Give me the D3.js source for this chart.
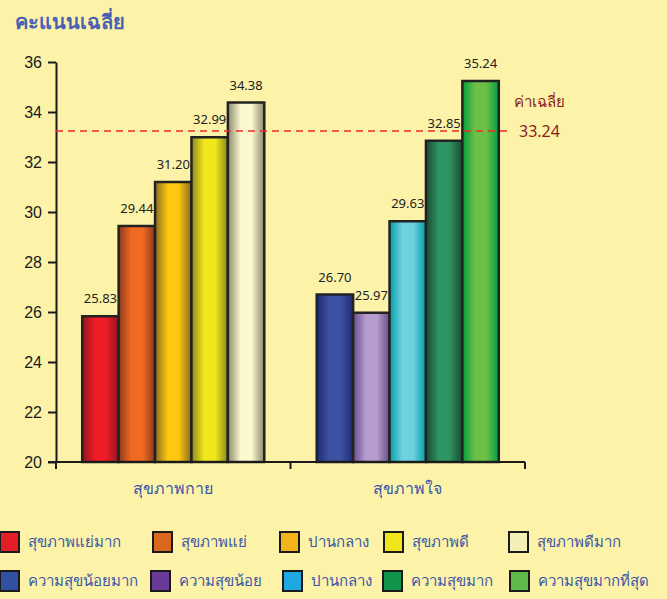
<!DOCTYPE html>
<html>
<head>
<meta charset="utf-8">
<script src="https://cdn.jsdelivr.net/npm/d3@7"></script>
<style>
  body { margin: 0; background: #fcf3a8; }
  svg { display: block; font-family: Tahoma, "Noto Sans", "DejaVu Sans", sans-serif; }
  .axis path, .axis line { stroke: #1a1a1a; stroke-width: 2px; }
  .axis text { fill: #1a1a1a; font-size: 16px; }
  .val { fill: #222; font-size: 13px; }
  .cat { fill: #3a56a8; font-size: 16px; }
  .leg { fill: #3a56a8; font-size: 15px; }
</style>
</head>
<body>
<div id="vis"></div>
<script>
const groups = ["สุขภาพกาย", "สุขภาพใจ"];
const physicalLabels = ["สุขภาพแย่มาก", "สุขภาพแย่", "ปานกลาง", "สุขภาพดี", "สุขภาพดีมาก"];
const mentalLabels = ["ความสุขน้อยมาก", "ความสุขน้อย", "ปานกลาง", "ความสุขมาก", "ความสุขมากที่สุด"];
const physicalValues = [25.83, 29.44, 31.20, 32.99, 34.38];
const mentalValues = [26.70, 25.97, 29.63, 32.85, 35.24];
const average = 33.24;
const yTicks = [20, 22, 24, 26, 28, 30, 32, 34, 36];

// bar shading: [edge, center]
const physicalBarColors = [["#8e1620", "#ee1c27"], ["#8a3a1c", "#f26a22"], ["#8a6a22", "#fec80e"], ["#8a8a1e", "#f2e61c"], ["#8a8a6c", "#fcf8d0"]];
const mentalBarColors = [["#1e2a72", "#3d52a2"], ["#6a4a8c", "#b59ecd"], ["#00a0a6", "#70d0e0"], ["#1a4a32", "#2e9462"], ["#00a040", "#6cc046"]];
const physicalLegend = ["#e41e26", "#d8681e", "#f2b41a", "#f0e41a", "#f4efb8"];
const mentalLegend = ["#3050a0", "#6a3a98", "#20a8e0", "#10944a", "#5eb84a"];

const width = 667, height = 599;
const margin = { top: 62, right: 142, bottom: 137, left: 56 };

const svg = d3.select("#vis").append("svg")
  .attr("width", width).attr("height", height);

const defs = svg.append("defs");
function grad(id, c) {
  const g = defs.append("linearGradient").attr("id", id)
    .attr("x1", "0%").attr("x2", "100%").attr("y1", "0%").attr("y2", "0%");
  g.append("stop").attr("offset", "0%").attr("stop-color", c[0]);
  g.append("stop").attr("offset", "35%").attr("stop-color", c[1]);
  g.append("stop").attr("offset", "65%").attr("stop-color", c[1]);
  g.append("stop").attr("offset", "100%").attr("stop-color", c[0]);
}
physicalBarColors.forEach((c, i) => grad("gp" + i, c));
mentalBarColors.forEach((c, i) => grad("gm" + i, c));

const x0 = d3.scaleBand()
  .domain(groups)
  .range([margin.left, width - margin.right]);

const x1 = d3.scaleBand()
  .domain(d3.range(5))
  .range([0, x0.bandwidth()])
  .paddingOuter(0.72);

const y = d3.scaleLinear()
  .domain([20, 36])
  .range([height - margin.bottom, margin.top]);

const data = [
  { group: groups[0], values: physicalValues, pre: "gp" },
  { group: groups[1], values: mentalValues, pre: "gm" }
];

// title
svg.append("text")
  .attr("x", 15).attr("y", 29)
  .attr("fill", "#4a60b4")
  .attr("font-size", 20).attr("font-weight", "bold")
  .text("คะแนนเฉลี่ย");

// bars
const g = svg.selectAll(".grp")
  .data(data)
  .join("g")
  .attr("transform", d => `translate(${x0(d.group)},0)`);

g.selectAll("rect")
  .data(d => d.values.map((v, i) => ({ v, i, pre: d.pre })))
  .join("rect")
  .attr("x", d => x1(d.i))
  .attr("y", d => y(d.v))
  .attr("width", x1.bandwidth())
  .attr("height", d => y(20) - y(d.v))
  .attr("fill", d => `url(#${d.pre}${d.i})`)
  .attr("stroke", "#222")
  .attr("stroke-width", 2.5);

g.selectAll(".val")
  .data(d => d.values.map((v, i) => ({ v, i })))
  .join("text")
  .attr("class", "val")
  .attr("x", d => x1(d.i) + x1.bandwidth() / 2)
  .attr("y", d => y(d.v) - 13)
  .attr("text-anchor", "middle")
  .text(d => d.v.toFixed(2));

// axes
svg.append("g")
  .attr("class", "axis")
  .attr("transform", `translate(${margin.left},0)`)
  .call(d3.axisLeft(y).tickValues(yTicks).tickSize(8).tickSizeOuter(0).tickPadding(6))
  .call(g => g.selectAll("text").attr("dy", "0.35em"));

const xAxis = svg.append("g")
  .attr("class", "axis")
  .attr("transform", `translate(0,${y(20)})`);
xAxis.append("line")
  .attr("x1", margin.left - 8).attr("x2", width - margin.right)
  .attr("y1", 0).attr("y2", 0);
xAxis.selectAll(".tk")
  .data([margin.left, x0(groups[1]), width - margin.right])
  .join("line")
  .attr("x1", d => d).attr("x2", d => d)
  .attr("y1", 0).attr("y2", 7);

svg.selectAll(".cat")
  .data(groups)
  .join("text")
  .attr("class", "cat")
  .attr("x", d => x0(d) + x0.bandwidth() / 2)
  .attr("y", y(20) + 32)
  .attr("text-anchor", "middle")
  .text(d => d);

// average line
svg.append("line")
  .attr("x1", margin.left).attr("x2", 510)
  .attr("y1", y(average)).attr("y2", y(average))
  .attr("stroke", "#ee2a2a").attr("stroke-width", 1.6)
  .attr("stroke-dasharray", "7,5");
svg.append("text")
  .attr("x", 514).attr("y", y(average) - 24)
  .attr("fill", "#8c1c1c").attr("font-size", 15)
  .text("ค่าเฉลี่ย");
svg.append("text")
  .attr("x", 519).attr("y", y(average) + 6)
  .attr("fill", "#8c1c1c").attr("font-size", 16)
  .text(average.toFixed(2));

// legend
const legendRows = [
  { labels: physicalLabels, colors: physicalLegend, y: 532, xs: [0, 153, 280, 384, 509] },
  { labels: mentalLabels, colors: mentalLegend, y: 571, xs: [0, 151, 283, 383, 510] }
];
legendRows.forEach(row => {
  const items = svg.append("g").selectAll("g")
    .data(row.labels.map((l, i) => ({ l, c: row.colors[i], x: row.xs[i] })))
    .join("g")
    .attr("transform", d => `translate(${d.x},${row.y})`);
  items.append("rect")
    .attr("width", 19).attr("height", 20)
    .attr("fill", d => d.c)
    .attr("stroke", "#1a1a1a").attr("stroke-width", 2);
  items.append("text")
    .attr("class", "leg")
    .attr("x", 28).attr("y", 15)
    .text(d => d.l);
});
</script>
</body>
</html>
